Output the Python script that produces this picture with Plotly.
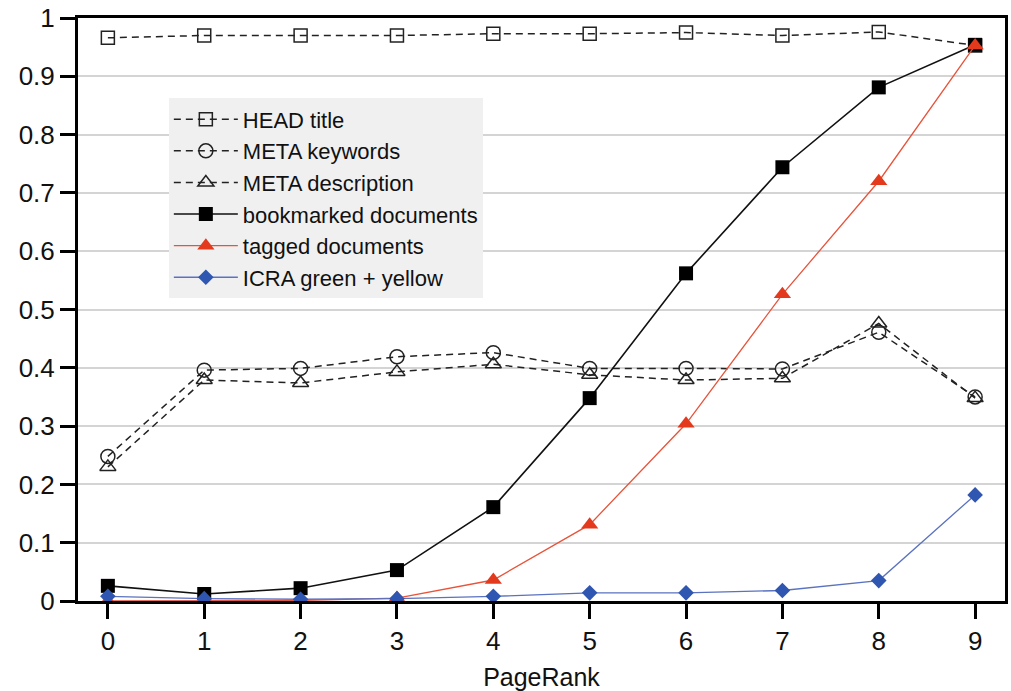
import plotly.graph_objects as go

pagerank = [0, 1, 2, 3, 4, 5, 6, 7, 8, 9]
head_title = [0.966, 0.970, 0.970, 0.970, 0.973, 0.973, 0.975, 0.970, 0.976, 0.953]
meta_keywords = [0.248, 0.396, 0.399, 0.419, 0.426, 0.399, 0.399, 0.398, 0.461, 0.350]
meta_description = [0.230, 0.379, 0.374, 0.393, 0.406, 0.388, 0.379, 0.382, 0.476, 0.348]
bookmarked = [0.026, 0.012, 0.022, 0.053, 0.161, 0.348, 0.562, 0.744, 0.881, 0.954]
tagged = [0.000, 0.000, 0.001, 0.005, 0.036, 0.131, 0.304, 0.526, 0.720, 0.953]
icra = [0.008, 0.004, 0.003, 0.004, 0.008, 0.014, 0.014, 0.018, 0.035, 0.182]
y_ticks = [0, 0.1, 0.2, 0.3, 0.4, 0.5, 0.6, 0.7, 0.8, 0.9, 1]
y_tick_text = ["0", "0.1", "0.2", "0.3", "0.4", "0.5", "0.6", "0.7", "0.8", "0.9", "1"]

FONT = "Liberation Sans, Arial, sans-serif"
fig = go.Figure()

dash = "7px,5px"
fig.add_trace(go.Scatter(x=pagerank, y=head_title, name="HEAD title", mode="lines+markers",
                         line=dict(color="#222", width=1.5, dash=dash),
                         marker=dict(symbol="square-open", size=13, color="#222", line=dict(width=1.5))))
fig.add_trace(go.Scatter(x=pagerank, y=meta_keywords, name="META keywords", mode="lines+markers",
                         line=dict(color="#222", width=1.5, dash=dash),
                         marker=dict(symbol="circle-open", size=14, color="#222", line=dict(width=1.5))))
fig.add_trace(go.Scatter(x=pagerank, y=meta_description, name="META description", mode="lines+markers",
                         line=dict(color="#222", width=1.5, dash=dash),
                         marker=dict(symbol="triangle-up-open", size=14, color="#222", line=dict(width=1.5))))
fig.add_trace(go.Scatter(x=pagerank, y=bookmarked, name="bookmarked documents", mode="lines+markers",
                         line=dict(color="#111", width=1.6),
                         marker=dict(symbol="square", size=14, color="#000")))
fig.add_trace(go.Scatter(x=pagerank, y=tagged, name="tagged documents", mode="lines+markers",
                         line=dict(color="#e8533a", width=1.3),
                         marker=dict(symbol="triangle-up", size=15, color="#e33a1e")))
fig.add_trace(go.Scatter(x=pagerank, y=icra, name="ICRA green + yellow", mode="lines+markers",
                         line=dict(color="#5a72c0", width=1.3),
                         marker=dict(symbol="diamond", size=12, color="#2f56b0")))

fig.update_layout(
    width=1011, height=691,
    margin=dict(l=78, r=3, t=17, b=87),
    paper_bgcolor="white", plot_bgcolor="white",
    font=dict(family=FONT, size=24, color="#111"),
    showlegend=True,
    legend=dict(x=0.098, y=0.862, xanchor="left", yanchor="top",
                bgcolor="#f0f0f0", font=dict(family=FONT, size=22, color="#111"),
                itemwidth=64, tracegroupgap=0, borderwidth=0),
    xaxis=dict(range=[-0.31, 9.31], tickvals=pagerank, ticktext=[str(v) for v in pagerank],
               showgrid=False, zeroline=False, showline=True, linecolor="#000", linewidth=3,
               mirror=True, ticks="outside", ticklen=15, tickwidth=2.5, tickcolor="#000",
               tickfont=dict(size=26),
               title=dict(text="PageRank", font=dict(size=25), standoff=14)),
    yaxis=dict(range=[0, 1], tickvals=y_ticks, ticktext=y_tick_text,
               showgrid=True, gridcolor="#d4d4d4", gridwidth=2, zeroline=False,
               showline=True, linecolor="#000", linewidth=3, mirror=True,
               ticks="outside", ticklen=15, tickwidth=2.5, tickcolor="#000",
               tickfont=dict(size=26)),
)

fig.write_html("out.html")
